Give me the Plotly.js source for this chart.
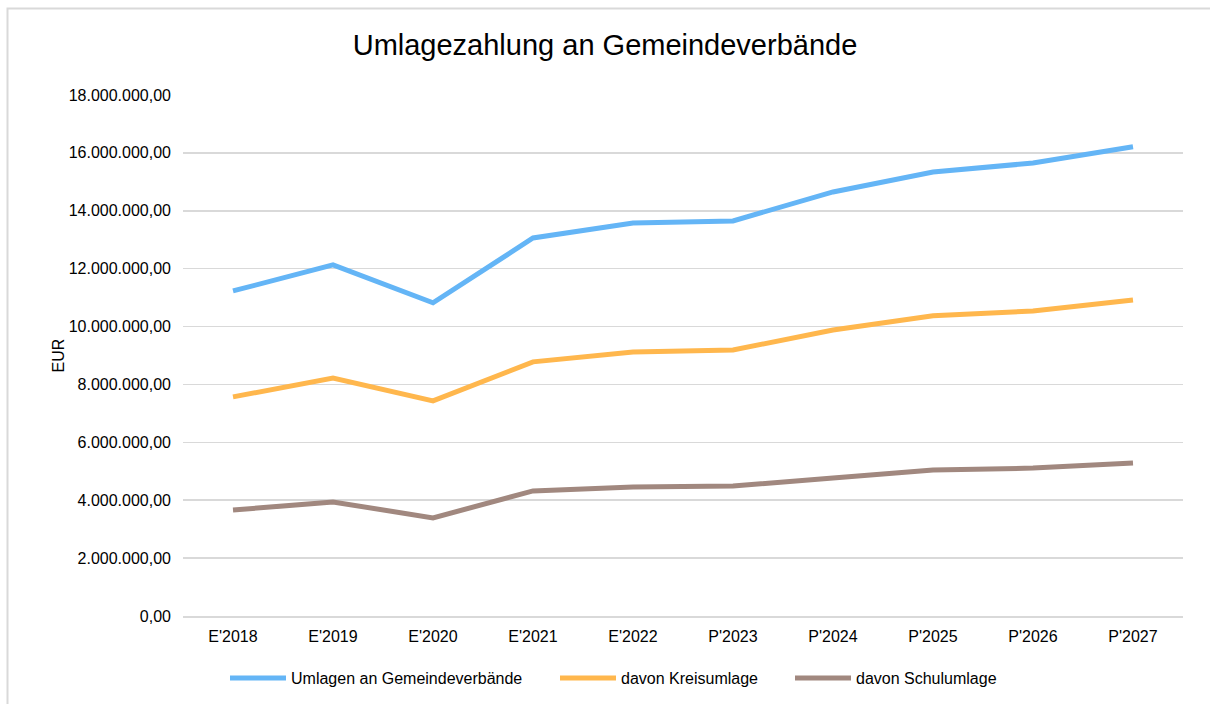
<!DOCTYPE html>
<html>
<head>
<meta charset="utf-8">
<script src="https://cdn.plot.ly/plotly-3.0.1.min.js"></script>
<style>html,body{margin:0;padding:0;background:#fff;}#chart{width:1210px;height:704px;}</style>
</head>
<body>
<div id="chart"></div>
<script>
const categories = ["E'2018","E'2019","E'2020","E'2021","E'2022","P'2023","P'2024","P'2025","P'2026","P'2027"];
const umlagenGesamt = [11230000,12130000,10820000,13060000,13580000,13650000,14650000,15340000,15650000,16210000];
const kreisumlage = [7570000,8220000,7430000,8780000,9120000,9190000,9880000,10370000,10540000,10920000];
const schulumlage = [3660000,3940000,3390000,4320000,4460000,4490000,4770000,5040000,5110000,5290000];
const seriesNames = ["Umlagen an Gemeindeverbände","davon Kreisumlage","davon Schulumlage"];
const yTickVals = [0,2000000,4000000,6000000,8000000,10000000,12000000,14000000,16000000,18000000];

const font = "Liberation Sans, Arial, sans-serif";
const fs = 16;
const colors = ["#64b5f6","#ffb74d","#a1887f"];
const legendIds = ['legend','legend2','legend3'];
const data = [umlagenGesamt, kreisumlage, schulumlage].map((v,i)=>({
  type:'scatter', mode:'lines', x:categories, y:v, name:seriesNames[i],
  line:{color:colors[i], width:5}, hoverinfo:'skip', legend:legendIds[i]
}));

const legendStarts = [225, 555, 790];
function legendCfg(px){
  return {orientation:'h', x:(px-183)/1000, xanchor:'left', y:-0.119, yanchor:'middle',
    font:{size:fs, family:font, color:'#000'}, itemwidth:56, bgcolor:'rgba(0,0,0,0)', borderwidth:0};
}

const layout = {
  width:1210, height:704,
  margin:{l:183, r:27, t:95, b:88, autoexpand:false},
  paper_bgcolor:'#fff', plot_bgcolor:'#fff',
  separators:',.',
  font:{family:font, color:'#000', size:fs},
  title:{text:'Umlagezahlung an Gemeindeverbände', font:{family:font, size:29, color:'#000'}, x:0.5, xanchor:'center', y:0.937, yanchor:'middle'},
  xaxis:{type:'category', range:[-0.5,9.5], showgrid:false, zeroline:false, showline:true, linecolor:'#d9d9d9', linewidth:2, ticks:'', tickfont:{size:fs, family:font}, ticklabelstandoff:5, fixedrange:true, automargin:false},
  yaxis:{range:[0,18000000], tickvals:yTickVals, tickformat:',.2f', showgrid:true, gridcolor:'#d9d9d9', gridwidth:1.5, zeroline:false, showline:false, ticks:'', ticklen:0, tickfont:{size:fs, family:font}, ticklabelstandoff:11,
    title:{text:'EUR', font:{size:fs, family:font}, standoff:0}, automargin:false, fixedrange:true},
  legend:legendCfg(legendStarts[0]),
  legend2:legendCfg(legendStarts[1]),
  legend3:legendCfg(legendStarts[2]),
  showlegend:true,
  shapes:[{type:'rect', xref:'paper', yref:'paper', x0:-0.1755, x1:1.1, y0:-0.2, y1:1.166, line:{color:'#d9d9d9', width:2}, layer:'below'}]
};
Plotly.newPlot('chart', data, layout, {displayModeBar:false, staticPlot:true});
</script>
</body>
</html>
